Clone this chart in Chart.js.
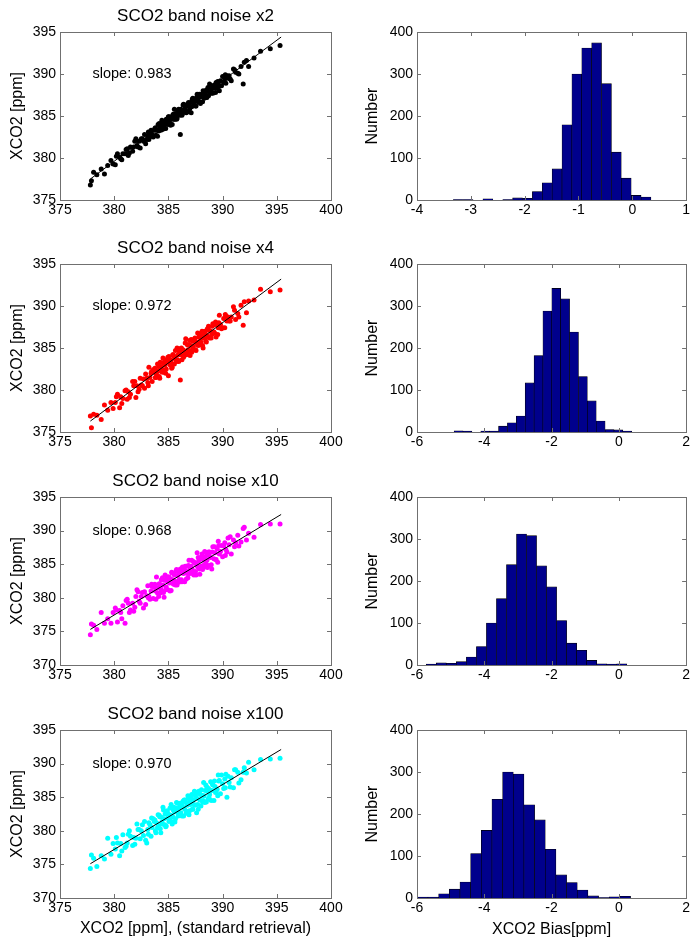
<!DOCTYPE html>
<html>
<head>
<meta charset="utf-8">
<script src="https://cdn.jsdelivr.net/npm/chart.js@4.4.1/dist/chart.umd.min.js"></script>
<style>
  html, body { margin: 0; padding: 0; background: #fff; }
  #fig { position: relative; width: 692px; height: 940px; overflow: hidden; background: #fff; }
</style>
</head>
<body>
<div id="fig"></div>
<script>
// standard retrieval XCO2 (x of every scatter panel)
const stdRetrieval = [377.8,377.9,378.1,378.4,378.8,379.1,379.4,379.7,379.9,380.1,
  380.3,380.5,380.6,380.8,381.0,381.2,381.3,381.5,381.7,381.8,
  382.0,382.1,382.3,382.4,382.5,382.7,382.8,383.0,383.1,383.2,
  383.3,383.4,383.5,383.6,383.7,383.8,383.9,384.0,384.05,384.1,
  384.2,384.3,384.35,384.4,384.5,384.6,384.65,384.7,384.8,384.9,
  384.95,385.0,385.1,385.2,385.25,385.3,385.4,385.5,385.55,385.6,
  385.7,385.8,385.85,385.9,386.0,386.1,386.15,386.2,386.3,386.4,
  386.45,386.5,386.6,386.7,386.75,386.8,386.9,387.0,387.05,387.1,
  387.2,387.3,387.35,387.4,387.5,387.6,387.65,387.7,387.8,387.9,
  387.95,388.0,388.1,388.2,388.25,388.3,388.4,388.5,388.55,388.6,
  388.75,388.8,388.9,389.0,389.1,389.2,389.3,389.4,389.5,389.6,
  389.7,389.8,390.0,390.1,390.2,390.3,390.4,390.5,390.6,390.8,
  391.0,391.2,391.4,391.7,391.9,392.2,392.4,392.9,393.5,394.4,395.3];

const xco2Noise2 = [376.8,377.3,378.3,378.0,378.7,378.1,379.1,379.7,379.3,379.2,
  380.5,380.1,379.9,380.5,380.5,381.1,380.3,381.3,380.8,381.3,
  382.3,381.5,382.0,381.2,382.3,382.0,382.8,382.2,382.6,382.2,
  383.0,383.3,382.8,382.5,383.3,383.6,383.3,382.6,384.0,383.2,
  383.7,383.3,384.0,384.5,383.7,384.0,383.5,384.3,384.6,384.1,
  384.0,384.9,384.5,383.9,384.8,384.6,385.1,384.6,385.8,384.6,
  385.0,384.7,385.3,385.7,385.2,382.8,385.8,385.6,385.3,386.4,
  385.6,385.8,385.5,386.2,386.4,385.5,386.2,386.1,386.6,385.4,
  387.0,386.8,386.3,386.7,386.2,387.2,387.6,386.8,386.8,387.3,
  386.5,387.5,387.3,388.0,387.3,387.1,387.7,388.1,387.2,388.0,
  387.9,388.8,387.8,388.2,387.7,388.5,388.3,389.0,388.3,388.8,
  388.0,389.2,389.7,389.0,389.4,388.9,389.8,389.5,389.8,389.2,
  390.6,390.2,390.1,390.9,388.8,391.6,390.9,391.9,392.7,393.0,393.4];

const xco2Noise4 = [376.9,375.5,377.1,377.0,376.5,378.2,377.6,378.5,377.8,378.5,
  379.5,377.9,379.2,379.0,379.9,378.9,379.8,379.5,381.0,380.5,
  379.1,380.5,380.1,381.4,380.6,381.3,380.2,381.4,380.9,382.7,
  381.5,382.0,381.0,382.4,382.1,381.5,381.9,383.1,382.3,382.8,
  381.4,382.8,382.2,382.5,383.8,383.3,382.1,383.0,382.5,383.4,
  383.9,381.7,383.7,383.2,383.5,382.6,384.2,384.0,383.1,383.8,
  383.6,385.0,383.6,384.2,384.6,381.2,384.2,385.0,384.7,383.9,
  384.6,384.2,386.1,384.5,385.4,384.8,385.4,384.1,385.3,386.0,
  384.8,385.2,386.0,385.8,384.8,385.7,385.5,386.8,386.3,385.4,
  386.2,385.7,387.0,385.0,386.2,386.9,386.7,385.7,386.5,387.3,
  387.1,386.2,387.0,386.6,387.9,386.9,387.8,386.3,387.8,387.4,
  388.9,387.8,387.4,388.5,387.4,388.8,388.2,388.7,388.2,388.7,
  389.9,388.4,389.1,390.1,387.7,389.2,390.6,390.7,392.0,391.7,391.9];

const xco2Noise10 = [374.5,376.1,375.9,375.3,377.8,376.2,376.9,376.2,377.8,378.5,
  376.4,378.1,377.8,378.8,376.2,379.8,379.2,378.2,379.2,378.0,
  380.2,381.2,379.5,379.2,380.2,378.5,380.9,380.3,381.8,380.2,
  379.8,381.0,381.7,379.9,381.6,381.0,383.1,380.7,381.5,380.2,
  382.0,381.3,382.7,381.0,381.9,380.1,382.6,383.4,381.6,382.5,
  381.2,383.1,382.2,382.8,381.1,383.8,382.7,382.0,383.4,382.5,
  384.0,381.9,383.3,383.9,382.7,384.3,383.7,382.7,384.6,383.6,
  384.2,382.4,384.0,384.7,383.6,383.0,385.6,384.2,383.7,384.7,
  384.2,385.4,383.4,385.2,383.9,384.9,386.7,384.6,385.5,383.5,
  385.9,384.7,386.5,384.8,385.6,384.6,386.1,386.7,385.6,384.5,
  386.3,386.8,386.0,384.3,387.6,385.8,386.7,385.7,387.3,388.4,
  386.5,386.9,386.1,387.7,388.2,387.2,386.8,388.9,387.9,386.5,
  388.6,388.2,389.3,388.3,390.3,388.6,389.6,389.0,390.9,391.0,391.0];

const xco2Noise100 = [374.4,376.4,375.9,374.7,376.3,375.8,378.9,376.5,378.1,377.3,
  378.2,376.3,378.1,379.4,377.5,378.2,379.5,379.2,377.8,379.0,
  378.9,381.0,380.2,378.8,380.0,379.3,381.4,378.2,380.2,381.2,
  380.9,379.2,380.5,381.8,381.4,380.0,381.2,380.5,382.4,380.8,
  382.1,379.7,382.0,381.3,383.5,381.8,380.9,382.5,380.7,383.0,
  381.9,382.5,381.6,382.3,383.9,381.4,382.1,383.5,382.8,381.3,
  383.4,382.8,384.1,382.2,383.4,384.1,382.7,384.0,383.6,382.2,
  384.6,383.2,384.2,382.9,383.8,385.2,382.4,384.4,383.9,385.0,
  383.2,384.6,383.9,385.9,385.2,382.7,384.8,383.9,385.9,384.6,
  385.4,383.7,385.3,384.5,387.2,385.2,386.0,384.3,386.5,385.9,
  384.9,385.4,387.3,386.0,386.8,384.5,386.6,385.8,386.2,388.3,
  387.5,385.5,387.0,386.3,387.7,388.4,385.0,388.1,387.2,387.9,
  386.4,389.1,388.7,387.6,388.7,388.6,390.2,389.1,390.6,390.7,390.8];

// second group of soundings in the dense middle of the band
const stdRetrievalB = [380.2,380.7,381.1,381.4,381.9,382.2,382.6,382.9,383.15,383.45,
  383.75,383.85,384.15,384.25,384.45,384.55,384.75,384.85,385.05,385.15,
  385.35,385.45,385.65,385.75,385.95,386.05,386.25,386.35,386.55,386.65,
  386.85,386.95,387.15,387.25,387.45,387.55,387.75,387.85,388.05,388.15,
  388.35,388.45,388.65,388.7,388.95,389.05,389.25,389.35,389.55,389.65,
  389.9,390.25,390.7,391.1,391.5,392.0];
const xco2Noise2B = [380.2,379.8,381.0,380.6,382.0,381.3,382.3,381.7,383.1,382.6,
  383.5,382.7,384.1,383.4,383.4,384.3,383.5,384.5,384.9,384.1,
  384.0,385.2,385.3,384.6,385.8,385.1,385.1,386.3,386.1,385.4,
  386.6,385.8,386.1,387.1,387.0,386.2,386.7,387.6,387.6,386.7,
  387.8,387.2,388.4,387.4,387.7,388.6,388.7,387.8,389.1,388.5,
  388.6,389.9,389.4,390.5,390.0,391.4];
const xco2Noise4B = [379.2,378.4,380.0,379.1,381.0,379.8,380.5,381.9,380.5,382.2,
  382.6,381.5,381.6,383.3,382.1,383.2,382.0,383.6,384.0,383.0,
  382.7,384.2,384.7,383.4,383.4,384.9,383.6,384.8,385.6,384.2,
  384.5,385.9,384.5,385.8,386.2,384.7,385.3,386.7,386.5,385.3,
  387.0,385.8,386.3,387.6,386.2,387.6,386.8,388.1,386.6,388.0,
  387.3,389.0,388.2,389.5,388.7,390.5];
const xco2Noise10B = [378.2,376.9,379.6,377.8,378.6,380.9,380.8,379.0,380.0,382.0,
  382.0,379.8,382.1,380.7,383.0,380.8,381.2,383.1,383.1,381.0,
  383.7,382.1,381.9,384.2,382.3,384.1,382.4,384.5,384.7,382.8,
  384.8,383.6,385.6,383.6,385.2,383.4,386.0,384.3,386.1,384.2,
  386.9,385.1,384.8,386.8,384.9,386.8,387.6,385.7,385.3,387.8,
  387.8,386.3,389.1,387.6,387.7,390.5];
const xco2Noise100B = [379.0,377.0,377.7,380.0,378.0,380.2,380.9,378.6,379.5,381.9,
  381.6,379.7,382.3,380.3,381.0,383.1,380.6,382.8,381.4,383.4,
  381.0,383.1,381.8,384.2,382.4,383.9,382.2,384.4,384.6,382.6,
  384.8,383.0,385.4,383.2,383.8,385.7,383.2,385.6,386.1,384.3,
  384.2,386.8,384.7,386.3,384.5,387.0,387.4,385.7,385.2,387.4,
  388.3,386.4,386.5,389.1,387.1,389.4];

// fitted lines (end points)
const fitX = [377.8, 395.4];
const fitNoise2 = [377.5, 394.4];
const fitNoise4 = [376.3, 393.2];
const fitNoise10 = [375.3, 392.4];
const fitNoise100 = [375.1, 392.1];

const titles = ['SCO2 band noise x2', 'SCO2 band noise x4', 'SCO2 band noise x10', 'SCO2 band noise x100'];
const slopes = ['slope: 0.983', 'slope: 0.972', 'slope: 0.968', 'slope: 0.970'];
const slopePos = [378, 390];

const scatterXRange = [375, 400];
const scatterYRanges = [[375, 395], [375, 395], [370, 395], [370, 395]];

// histograms of XCO2 bias: bin centres and counts
const biasCenters2 = [-3.234,-3.051,-2.867,-2.683,-2.500,-2.316,-2.132,-1.949,-1.765,-1.581,
  -1.398,-1.214,-1.030,-0.847,-0.663,-0.479,-0.296,-0.112,0.072,0.255];
const biasCounts2 = [1,1,0,3,0,1,5,4,20,41,74,179,300,362,374,277,114,52,11,7];
const biasCenters4 = [-4.764,-4.500,-4.236,-3.972,-3.708,-3.444,-3.180,-2.916,-2.652,-2.388,
  -2.124,-1.860,-1.596,-1.332,-1.068,-0.804,-0.540,-0.276,-0.012,0.252];
const biasCounts4 = [3,2,0,2,2,14,22,38,117,182,288,342,317,238,132,74,26,6,5,2];
const biasCenters10 = [-5.575,-5.277,-4.979,-4.681,-4.383,-4.085,-3.787,-3.489,-3.191,-2.893,
  -2.595,-2.297,-1.999,-1.701,-1.403,-1.105,-0.807,-0.509,-0.211,0.087];
const biasCounts10 = [2,5,4,8,19,44,100,158,239,312,308,236,186,106,52,35,11,3,2,3];
const biasCenters100 = [-5.832,-5.515,-5.198,-4.881,-4.564,-4.247,-3.930,-3.613,-3.296,-2.979,
  -2.662,-2.345,-2.028,-1.711,-1.394,-1.077,-0.760,-0.443,-0.126,0.191];
const biasCounts100 = [2,2,10,21,38,106,161,235,300,295,222,186,116,55,37,19,5,1,3,4];

const biasXRanges = [[-4, 1], [-6, 2], [-6, 2], [-6, 2]];
const biasXSteps = [1, 2, 2, 2];
const countRange = [0, 400];

const FONT = '"Liberation Sans", Arial, Helvetica, sans-serif';
Chart.defaults.font.family = FONT;
Chart.defaults.color = '#000';

const plotTops = [32, 264, 497, 730];
const boxColor = '#707070';

// matlab style box with inward ticks
const framePlugin = {
  id: 'frame',
  afterDraw(chart) {
    const { ctx, chartArea: a, scales } = chart;
    ctx.save();
    ctx.strokeStyle = boxColor;
    ctx.lineWidth = 1;
    ctx.beginPath();
    scales.x.ticks.forEach(t => {
      const px = Math.round(scales.x.getPixelForValue(t.value)) + 0.5;
      ctx.moveTo(px, a.bottom); ctx.lineTo(px, a.bottom - 4);
      ctx.moveTo(px, a.top); ctx.lineTo(px, a.top + 4);
    });
    scales.y.ticks.forEach(t => {
      const py = Math.round(scales.y.getPixelForValue(t.value)) + 0.5;
      ctx.moveTo(a.left, py); ctx.lineTo(a.left + 4, py);
      ctx.moveTo(a.right, py); ctx.lineTo(a.right - 4, py);
    });
    ctx.stroke();
    ctx.strokeRect(Math.round(a.left) + 0.5, Math.round(a.top) + 0.5,
      Math.round(a.right - a.left), Math.round(a.bottom - a.top));
    ctx.restore();
  }
};
Chart.register(framePlugin);

const notePlugin = {
  id: 'slopeNote',
  afterDatasetsDraw(chart, args, opts) {
    if (!opts.text) return;
    const { ctx, scales } = chart;
    ctx.save();
    ctx.font = '14.5px ' + FONT;
    ctx.fillStyle = '#000';
    ctx.textAlign = 'left';
    ctx.textBaseline = 'middle';
    ctx.fillText(opts.text, scales.x.getPixelForValue(opts.x), scales.y.getPixelForValue(opts.y));
    ctx.restore();
  }
};

function addCanvas(left, top, w, h) {
  const c = document.createElement('canvas');
  c.width = w;
  c.height = h;
  c.style.cssText = `position:absolute;left:${left}px;top:${top}px;width:${w}px;height:${h}px`;
  document.getElementById('fig').appendChild(c);
  return c;
}

function scatterPanel(row, ys, ysB, fitY, color) {
  const bottomH = row === 3 ? 42 : 33;
  const canvas = addCanvas(0, plotTops[row] - 32, 346, 200 + bottomH);
  new Chart(canvas, {
    type: 'scatter',
    data: {
      datasets: [
        {
          type: 'line',
          data: fitX.map((x, i) => ({ x, y: fitY[i] })),
          borderColor: '#000',
          borderWidth: 1,
          pointRadius: 0,
          tension: 0
        },
        {
          data: stdRetrieval.map((x, i) => ({ x, y: ys[i] })),
          backgroundColor: color,
          borderWidth: 0,
          pointRadius: 2.5
        },
        {
          data: stdRetrievalB.map((x, i) => ({ x, y: ysB[i] })),
          backgroundColor: color,
          borderWidth: 0,
          pointRadius: 2.5
        }
      ]
    },
    options: {
      responsive: false,
      animation: false,
      events: [],
      layout: { autoPadding: false, padding: { left: 0, right: 15, top: 0, bottom: 0 } },
      plugins: {
        legend: { display: false },
        tooltip: { enabled: false },
        title: {
          display: true, text: titles[row], fullSize: false, color: '#000',
          font: { size: 17, weight: 'normal' }, padding: { top: 6.3, bottom: 5.3 }
        },
        slopeNote: { text: slopes[row], x: slopePos[0], y: slopePos[1] }
      },
      scales: {
        x: {
          type: 'linear', min: scatterXRange[0], max: scatterXRange[1],
          afterFit: s => { s.height = bottomH; },
          grid: { display: false, drawTicks: false },
          border: { display: false },
          ticks: { stepSize: 5, padding: 2, color: '#000', font: { size: 14 }, maxRotation: 0 },
          title: {
            display: row === 3, text: 'XCO2 [ppm], (standard retrieval)', color: '#000',
            font: { size: 16 }, padding: { top: 0, bottom: 2 }
          }
        },
        y: {
          type: 'linear', min: scatterYRanges[row][0], max: scatterYRanges[row][1],
          afterFit: s => { s.width = 60; },
          grid: { display: false, drawTicks: false },
          border: { display: false },
          ticks: { stepSize: 5, padding: 4, color: '#000', font: { size: 14 } },
          title: {
            display: true, text: 'XCO2 [ppm]', color: '#000',
            font: { size: 16 }, padding: { top: 8.4, bottom: 0 }
          }
        }
      }
    },
    plugins: [notePlugin]
  });
}

function histPanel(row, centers, counts) {
  const bottomH = row === 3 ? 42 : 33;
  const canvas = addCanvas(346, plotTops[row] - 32, 346, 200 + bottomH);
  new Chart(canvas, {
    type: 'bar',
    data: {
      datasets: [{
        data: centers.map((x, i) => ({ x, y: counts[i] })),
        backgroundColor: '#00008c',
        borderColor: '#000',
        borderWidth: 0.6,
        barPercentage: 1,
        categoryPercentage: 1
      }]
    },
    options: {
      responsive: false,
      animation: false,
      events: [],
      layout: { autoPadding: false, padding: { left: 0, right: 5, top: 32, bottom: 0 } },
      plugins: { legend: { display: false }, tooltip: { enabled: false } },
      scales: {
        x: {
          type: 'linear', offset: false, min: biasXRanges[row][0], max: biasXRanges[row][1],
          afterFit: s => { s.height = bottomH; },
          grid: { display: false, drawTicks: false },
          border: { display: false },
          ticks: { stepSize: biasXSteps[row], padding: 2, color: '#000', font: { size: 14 }, maxRotation: 0 },
          title: {
            display: row === 3, text: 'XCO2 Bias[ppm]', color: '#000',
            font: { size: 16 }, padding: { top: 0, bottom: 0.5 }
          }
        },
        y: {
          type: 'linear', min: countRange[0], max: countRange[1],
          afterFit: s => { s.width = 71; },
          grid: { display: false, drawTicks: false },
          border: { display: false },
          ticks: { stepSize: 100, padding: 4, color: '#000', font: { size: 14 } },
          title: {
            display: true, text: 'Number', color: '#000',
            font: { size: 16 }, padding: { top: 17.4, bottom: 0 }
          }
        }
      }
    }
  });
}

scatterPanel(0, xco2Noise2, xco2Noise2B, fitNoise2, '#000000');
scatterPanel(1, xco2Noise4, xco2Noise4B, fitNoise4, '#ff0000');
scatterPanel(2, xco2Noise10, xco2Noise10B, fitNoise10, '#ff00ff');
scatterPanel(3, xco2Noise100, xco2Noise100B, fitNoise100, '#00ffff');

histPanel(0, biasCenters2, biasCounts2);
histPanel(1, biasCenters4, biasCounts4);
histPanel(2, biasCenters10, biasCounts10);
histPanel(3, biasCenters100, biasCounts100);
</script>
</body>
</html>
